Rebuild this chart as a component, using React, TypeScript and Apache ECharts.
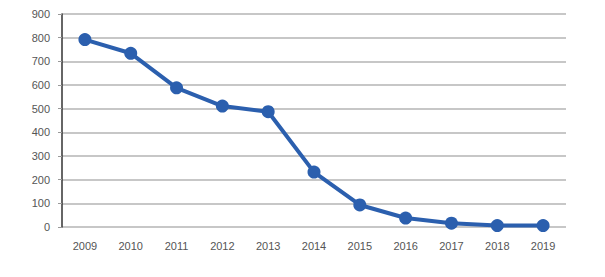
import React, { useEffect, useRef } from "react";
import * as echarts from "echarts";

const years = ["2009", "2010", "2011", "2012", "2013", "2014", "2015", "2016", "2017", "2018", "2019"];
const values = [792, 734, 588, 511, 487, 232, 93, 38, 16, 6, 6];

export default function App() {
  const ref = useRef<HTMLDivElement>(null);
  useEffect(() => {
    const chart = echarts.init(ref.current!, null, { renderer: "svg" });
    chart.setOption({
      animation: false,
      backgroundColor: "#fff",
      grid: { left: 62, right: 39, top: 14, bottom: 50, containLabel: false },
      xAxis: {
        type: "category",
        data: years,
        boundaryGap: true,
        axisLine: { show: false },
        axisTick: { show: false },
        axisLabel: { color: "#555", fontSize: 11, fontFamily: "Arial, Liberation Sans", margin: 13 },
      },
      yAxis: {
        type: "value",
        min: 0,
        max: 900,
        interval: 100,
        axisLine: { show: true, lineStyle: { color: "#333", width: 1.5 } },
        axisTick: { show: true, length: 4, lineStyle: { color: "#999" } },
        axisLabel: { color: "#555", fontSize: 11, fontFamily: "Arial, Liberation Sans", margin: 12 },
        splitLine: { show: true, lineStyle: { color: "#b5b5b5", width: 1.5 } },
      },
      series: [
        {
          type: "line",
          data: values,
          symbol: "circle",
          symbolSize: 13,
          lineStyle: { color: "#2b5fae", width: 4 },
          itemStyle: { color: "#2b5fae" },
        },
      ],
    });
    return () => chart.dispose();
  }, []);
  return <div ref={ref} style={{ width: 605, height: 277, margin: -8 }} />;
}
